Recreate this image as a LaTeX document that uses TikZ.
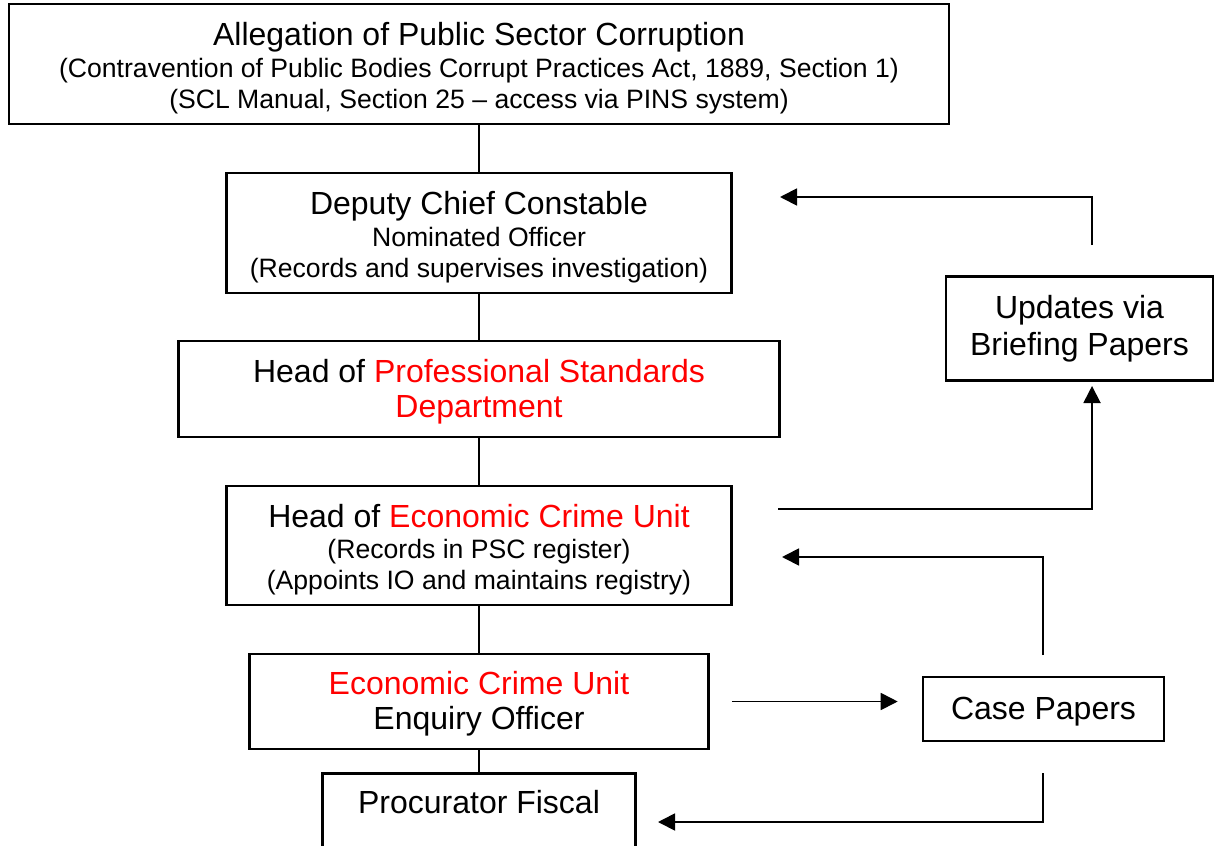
\documentclass[tikz,border=0pt]{standalone}
\usepackage{fontspec}
\setmainfont{Liberation Sans}
\usetikzlibrary{arrows.meta,positioning}
\newcommand{\sm}{\fontsize{13.3}{15.5}\selectfont}
\newcommand{\topgap}[1]{\rule{0pt}{#1}}
\tikzset{
  box/.style={draw, line width=1.3pt, align=center, inner sep=0pt,
    font=\fontsize{16}{15.5}\selectfont},
  link/.style={line width=0.9pt},
  arr/.style={link, -{Triangle[length=8.5pt,width=8.5pt]}}
}
\begin{document}
\begin{tikzpicture}[x=0.5pt, y=-0.5pt]
  \path[use as bounding box, clip] (0,0) rectangle (1218,845);
  % main column
  \node[box, minimum width=470pt, minimum height=60pt] (top) at (479,64)
    {\topgap{16pt}Allegation of Public Sector Corruption\\[0.5pt]
     \sm (Contravention of Public Bodies Corrupt Practices Act, 1889, Section 1)\\
     \sm (SCL Manual, Section 25 \textendash\ access via PINS system)};
  \node[box, minimum width=252.5pt, minimum height=60pt] (dcc) at (479,233)
    {\topgap{16pt}Deputy Chief Constable\\[0.5pt]
     \sm Nominated Officer\\
     \sm (Records and supervises investigation)};
  \node[box, minimum width=300.5pt, minimum height=48pt] (psd) at (479,389)
    {\topgap{14pt}Head of {\color{red}Professional Standards}\\[2pt]
     {\color{red}Department}};
  \node[box, minimum width=252.5pt, minimum height=59.5pt] (ecu) at (479,545.5)
    {\topgap{16pt}Head of {\color{red}Economic Crime Unit}\\
     \sm (Records in PSC register)\\
     \sm (Appoints IO and maintains registry)};
  \node[box, minimum width=229.5pt, minimum height=47.5pt] (eo) at (479,701.5)
    {\topgap{14pt}{\color{red}Economic Crime Unit}\\[2pt]
     Enquiry Officer};
  \node[box, minimum width=156.5pt, text height=20pt, text depth=24pt,
    anchor=north] (pf) at (479,772) {Procurator Fiscal};
  % side boxes
  \node[box, minimum width=133.5pt, minimum height=52pt] (upd) at (1079.5,328.5)
    {Updates via\\[3pt]Briefing Papers};
  \node[box, minimum width=120.5pt, minimum height=32pt] (case) at (1043.5,709)
    {\topgap{14pt}Case Papers};

  \path[link]
    (top) edge (dcc)
    (dcc) edge (psd)
    (psd) edge (ecu)
    (ecu) edge (eo)
    (eo) edge (pf);

  % loose ends of the feedback arrows
  \coordinate (updfoot) at (1092,245);
  \coordinate (dcctip) at (780,197);
  \coordinate (ecufoot) at (778,509);
  \coordinate (updtip) at (1092,386);
  \coordinate (casefoot) at (1043,655);
  \coordinate (ecutip) at (782,557);
  \coordinate (casebase) at (1043,773);
  \coordinate (pftip) at (658,822);

  \draw[arr] (updfoot) |- (dcctip);
  \draw[arr] (ecufoot) -| (updtip);
  \draw[arr] (casefoot) |- (ecutip);
  \draw[arr, shorten <=11pt, shorten >=12pt] (eo.east) -- (eo.east -| case.west);
  \draw[arr] (casebase) |- (pftip);
\end{tikzpicture}
\end{document}
